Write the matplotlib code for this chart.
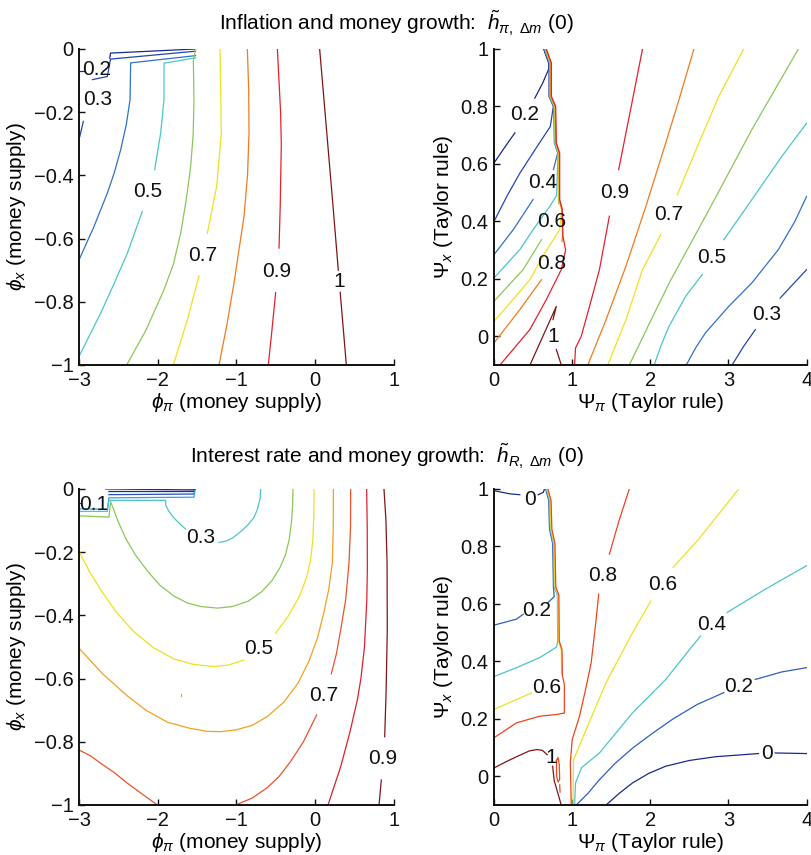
import matplotlib
matplotlib.use('Agg')
import matplotlib.pyplot as plt

plt.rcParams['font.family'] = ['Liberation Sans', 'DejaVu Sans']
plt.rcParams['mathtext.fontset'] = 'custom'
plt.rcParams['mathtext.rm'] = 'Liberation Sans'
plt.rcParams['mathtext.it'] = 'Liberation Sans:italic'
plt.rcParams['mathtext.bf'] = 'Liberation Sans:bold'

# ---------------- data ----------------
# contour levels and their colours (jet-like)
top_colors = {0.2: '#1c2a8c', 0.3: '#2347b0', 0.4: '#2f72c8', 0.5: '#4cc4cc',
              0.6: '#8cc65a', 0.7: '#eee21e', 0.8: '#f27a1e', 0.9: '#e3222e',
              1.0: '#7e1616'}
bl_colors = {0.0: '#1c2a8c', 0.1: '#2a4fc0', 0.2: '#30a2e2', 0.3: '#4cc4cc',
             0.4: '#8cc65a', 0.5: '#eee21e', 0.6: '#f2a020', 0.7: '#ea5230',
             0.8: '#dc2030', 0.9: '#7e1616'}
br_colors = {0.0: '#1c2a8c', 0.2: '#2f5fc0', 0.4: '#4cc4cc', 0.6: '#eee21e',
             0.8: '#f04422', 1.0: '#7e1616'}

# ridge where the contours of the right panels pile up (x, y), bottom to top
tr_ridge = [(0.916, 0.30), (0.882, 0.348), (0.874, 0.441), (0.840, 0.476),
            (0.840, 0.638), (0.797, 0.673), (0.789, 0.800), (0.734, 0.835),
            (0.734, 0.951), (0.670, 1.0)]
tr_shift = {0.2: -0.035, 0.3: -0.030, 0.4: -0.025, 0.5: -0.020, 0.6: -0.015,
            0.7: -0.010, 0.8: -0.005, 0.9: 0.0}
br_ridge = [(0.90, 0.22), (0.90, 0.32), (0.875, 0.35), (0.87, 0.44),
            (0.835, 0.47), (0.83, 0.63), (0.79, 0.66), (0.78, 0.81),
            (0.74, 0.86), (0.73, 0.96), (0.69, 1.0)]
br_shift = {0.2: -0.03, 0.4: -0.02, 0.6: -0.01, 0.8: 0.0}


def up_ridge(ridge, y0, dx):
    return [(x + dx, y) for x, y in ridge if y > y0]


# top left: inflation, money supply rule
tl_lines = {
    0.2: [[(-1.52, 0.0), (-2.60, -0.013), (-2.61, -0.029)],
          [(-2.99, -0.071), (-2.94, -0.071)]],
    0.3: [[(-1.52, -0.007), (-2.60, -0.032), (-2.64, -0.087), (-2.83, -0.097)],
          [(-2.945, -0.229), (-2.99, -0.277)]],
    0.4: [[(-1.52, -0.021), (-2.344, -0.044), (-2.352, -0.161), (-2.40, -0.24),
           (-2.471, -0.319), (-2.55, -0.39), (-2.64, -0.456), (-2.81, -0.562),
           (-2.99, -0.662)]],
    0.5: [[(-1.52, -0.028), (-1.92, -0.045), (-1.921, -0.161), (-1.963, -0.266),
           (-2.039, -0.382)],
          [(-2.196, -0.514), (-2.386, -0.646), (-2.55, -0.74), (-2.725, -0.836),
           (-2.99, -0.968)]],
    0.6: [[(-1.52, 0.0), (-1.548, -0.037), (-1.54, -0.161), (-1.55, -0.27),
           (-1.582, -0.372), (-1.64, -0.48), (-1.709, -0.583), (-1.80, -0.68),
           (-1.921, -0.762), (-2.15, -0.89), (-2.395, -1.0)]],
    0.7: [[(-1.209, 0.0), (-1.193, -0.266), (-1.252, -0.435), (-1.37, -0.583)],
          [(-1.476, -0.718), (-1.624, -0.857), (-1.802, -1.0)]],
    0.8: [[(-0.862, 0.0), (-0.845, -0.13), (-0.841, -0.266), (-0.86, -0.40),
           (-0.905, -0.53), (-1.032, -0.741), (-1.12, -0.87), (-1.222, -1.0)]],
    0.9: [[(-0.481, 0.0), (-0.44, -0.20), (-0.431, -0.30), (-0.445, -0.5),
           (-0.46, -0.63)],
          [(-0.503, -0.771), (-0.55, -0.89), (-0.596, -1.0)]],
    1.0: [[(0.056, 0.0), (0.22, -0.48), (0.293, -0.70)],
          [(0.317, -0.77), (0.395, -1.0)]],
}
tl_labels = [('0.2', -2.78, -0.064), ('0.3', -2.767, -0.161), ('0.5', -2.132, -0.451),
             ('0.7', -1.434, -0.652), ('0.9', -0.49, -0.704), ('1', 0.30, -0.736)]

# top right: inflation, Taylor rule
tr_lines = {
    0.2: [[(0.0, 0.603), (0.13, 0.655), (0.267, 0.708)],
          [(0.522, 0.829), (0.62, 0.88), (0.70, 0.93)] + up_ridge(tr_ridge, 0.93, tr_shift[0.2])],
    0.3: [[(0.0, 0.40), (0.17, 0.49), (0.331, 0.568), (0.55, 0.66), (0.72, 0.73)]
          + up_ridge(tr_ridge, 0.73, tr_shift[0.3]),
          [(3.046, -0.1), (3.194, -0.035), (3.343, 0.023)],
          [(3.661, 0.133), (4.0, 0.232)]],
    0.4: [[(0.0, 0.284), (0.246, 0.371), (0.5, 0.476)],
          [(0.76, 0.58)] + up_ridge(tr_ridge, 0.58, tr_shift[0.4]),
          [(2.46, -0.1), (2.58, -0.04), (2.706, 0.012), (3.003, 0.104), (3.30, 0.186),
           (3.639, 0.302), (3.85, 0.40), (4.0, 0.487)]],
    0.5: [[(0.0, 0.203), (0.331, 0.302), (0.5, 0.371), (0.713, 0.452), (0.80, 0.49)]
          + up_ridge(tr_ridge, 0.49, tr_shift[0.5]),
          [(2.049, -0.1), (2.14, -0.03), (2.24, 0.035), (2.452, 0.139), (2.664, 0.215)],
          [(2.94, 0.336), (3.30, 0.476), (3.682, 0.626), (4.0, 0.742)]],
    0.6: [[(0.0, 0.122), (0.373, 0.232), (0.607, 0.336)],
          [(0.83, 0.46)] + up_ridge(tr_ridge, 0.46, tr_shift[0.6]),
          [(1.731, -0.1), (1.98, 0.04), (2.25, 0.19), (2.75, 0.44), (3.3, 0.72),
           (3.894, 1.0)]],
    0.7: [[(0.0, 0.052), (0.25, 0.13), (0.458, 0.197), (0.65, 0.29), (0.84, 0.371)]
          + up_ridge(tr_ridge, 0.38, tr_shift[0.7]),
          [(1.455, -0.1), (1.688, 0.058), (1.90, 0.232), (2.134, 0.354)],
          [(2.346, 0.493), (2.621, 0.673), (2.876, 0.835), (3.194, 1.0)]],
    0.8: [[(0.0, -0.023), (0.331, 0.093), (0.607, 0.197)],
          [(0.87, 0.33)] + up_ridge(tr_ridge, 0.34, tr_shift[0.8]),
          [(1.2, -0.1), (1.434, 0.058), (1.688, 0.244), (1.943, 0.452),
           (2.197, 0.673), (2.367, 0.824), (2.558, 1.0)]],
    0.9: [[(0.076, -0.1), (0.458, 0.023), (0.670, 0.128), (0.861, 0.232), (0.916, 0.30)]
          + up_ridge(tr_ridge, 0.30, tr_shift[0.9]),
          [(1.031, -0.1), (1.043, -0.041), (1.116, 0.0), (1.222, 0.104),
           (1.349, 0.232), (1.476, 0.418)],
          [(1.595, 0.58), (1.773, 0.824), (1.90, 1.0)]],
    1.0: [[(0.46, -0.1), (0.797, 0.104), (0.755, 0.058)],
          [(0.797, -0.046), (0.861, -0.1)]],
}
tr_labels = [('0.2', 0.394, 0.771), ('0.4', 0.628, 0.534), ('0.6', 0.734, 0.40),
             ('0.8', 0.734, 0.255), ('1', 0.755, 0.0), ('0.9', 1.54, 0.499),
             ('0.7', 2.24, 0.423), ('0.5', 2.79, 0.273), ('0.3', 3.49, 0.075)]

# bottom left: interest rate, money supply rule
bl_lines = {
    0.0: [[(-2.66, 0.0), (-1.54, -0.003), (-1.53, 0.0)],
          [(-2.62, -0.008), (-1.54, -0.008), (-1.53, -0.002)],
          [(-1.82, 0.003), (-1.53, 0.0)]],
    0.1: [[(-2.62, -0.018), (-1.54, -0.016), (-1.53, -0.004)],
          [(-3.0, -0.045), (-2.97, -0.045)]],
    0.2: [[(-3.0, -0.063), (-2.64, -0.064), (-2.62, -0.028), (-1.54, -0.026),
           (-1.53, -0.006)]],
    0.3: [[(-0.693, 0.0), (-0.70, -0.03), (-0.735, -0.065), (-0.778, -0.09),
           (-0.86, -0.115), (-0.947, -0.135), (-1.05, -0.155), (-1.13, -0.165),
           (-1.222, -0.169)],
          [(-1.646, -0.127), (-1.72, -0.11), (-1.794, -0.092), (-1.86, -0.07),
           (-1.90, -0.05), (-1.90, -0.036), (-2.62, -0.036), (-2.64, -0.071),
           (-3.0, -0.071)]],
    0.4: [[(-0.283, 0.0), (-0.287, -0.05), (-0.30, -0.10), (-0.33, -0.16),
           (-0.38, -0.21), (-0.45, -0.25), (-0.55, -0.29), (-0.68, -0.325),
           (-0.85, -0.355), (-1.05, -0.372), (-1.243, -0.377), (-1.45, -0.372),
           (-1.624, -0.361), (-1.80, -0.338), (-1.97, -0.305), (-2.13, -0.26),
           (-2.28, -0.21), (-2.40, -0.16), (-2.50, -0.105), (-2.598, -0.04),
           (-2.62, -0.089), (-3.0, -0.085)]],
    0.5: [[(-0.016, 0.0), (-0.018, -0.08), (-0.03, -0.16), (-0.06, -0.225),
           (-0.11, -0.28), (-0.2, -0.34), (-0.35, -0.405), (-0.503, -0.456)],
          [(-0.905, -0.541), (-1.1, -0.557), (-1.286, -0.562), (-1.55, -0.555),
           (-1.794, -0.538), (-2.05, -0.503), (-2.302, -0.452), (-2.525, -0.39),
           (-2.725, -0.319), (-2.87, -0.26), (-3.0, -0.197)]],
    0.6: [[(0.23, 0.0), (0.229, -0.12), (0.217, -0.234), (0.17, -0.32),
           (0.11, -0.39), (0.03, -0.47), (-0.08, -0.545), (-0.22, -0.615),
           (-0.4, -0.675), (-0.608, -0.72), (-0.80, -0.748), (-1.0, -0.762),
           (-1.2, -0.768), (-1.37, -0.767), (-1.6, -0.757), (-1.878, -0.738),
           (-2.15, -0.70), (-2.386, -0.655), (-2.7, -0.585), (-3.0, -0.504)],
          [(-1.71, -0.648), (-1.71, -0.656)]],
    0.7: [[(0.45, 0.0), (0.448, -0.12), (0.429, -0.234), (0.386, -0.351),
           (0.323, -0.446), (0.27, -0.52), (0.204, -0.585)],
          [(0.018, -0.715), (-0.15, -0.80), (-0.312, -0.862), (-0.46, -0.91),
           (-0.608, -0.945), (-0.80, -0.978), (-1.011, -1.0)],
          [(-3.0, -0.826), (-2.85, -0.845), (-2.725, -0.868), (-2.55, -0.898),
           (-2.386, -0.931), (-2.2, -0.965), (-2.005, -1.0)]],
    0.8: [[(0.653, 0.0), (0.66, -0.12), (0.662, -0.25), (0.655, -0.351),
           (0.625, -0.50), (0.58, -0.60), (0.535, -0.667), (0.44, -0.77),
           (0.323, -0.879), (0.162, -1.0)]],
    0.9: [[(0.873, 0.0), (0.898, -0.10), (0.912, -0.234), (0.915, -0.446),
           (0.90, -0.64), (0.882, -0.784)],
          [(0.839, -0.921), (0.81, -1.0)]],
}
bl_labels = [('0.1', -2.81, -0.05), ('0.3', -1.455, -0.155), ('0.5', -0.714, -0.504),
             ('0.7', 0.111, -0.652), ('0.9', 0.852, -0.852)]

# bottom right: interest rate, Taylor rule
br_lines = {
    0.0: [[(0.0, 0.994), (0.204, 0.983), (0.33, 0.98)],
          [(0.564, 0.98), (0.63, 0.988), (0.645, 1.0)],
          [(1.434, -0.1), (1.60, -0.06), (1.773, -0.023), (1.98, 0.01), (2.197, 0.035),
           (2.5, 0.055), (2.834, 0.068), (3.385, 0.079)],
          [(3.597, 0.081), (4.0, 0.079)]],
    0.2: [[(0.0, 0.526), (0.288, 0.547), (0.374, 0.564)],
          [(0.691, 0.605), (0.77, 0.625)] + up_ridge(br_ridge, 0.63, br_shift[0.2]),
          [(1.052, -0.1), (1.2, -0.06), (1.349, -0.012), (1.55, 0.045), (1.773, 0.098),
           (2.03, 0.15), (2.282, 0.198), (2.6, 0.25), (2.94, 0.291)],
          [(3.343, 0.337), (3.68, 0.363), (4.0, 0.378)]],
    0.4: [[(0.0, 0.347), (0.288, 0.378), (0.585, 0.413), (0.80, 0.45)]
          + up_ridge(br_ridge, 0.45, br_shift[0.4]),
          [(1.031, -0.1), (1.043, -0.023), (1.12, 0.03), (1.349, 0.081),
           (1.773, 0.221), (2.197, 0.337), (2.537, 0.453), (2.643, 0.488)],
          [(2.982, 0.57), (3.47, 0.651), (4.0, 0.733)]],
    0.6: [[(0.0, 0.233), (0.246, 0.262), (0.48, 0.29)],
          [(0.865, 0.355)] + up_ridge(br_ridge, 0.36, br_shift[0.6]),
          [(1.01, -0.1), (1.018, 0.058), (1.179, 0.163), (1.434, 0.326),
           (1.773, 0.50), (2.006, 0.61)],
          [(2.291, 0.727), (2.621, 0.826), (3.13, 1.0)]],
    0.8: [[(0.0, 0.134), (0.288, 0.186), (0.585, 0.209), (0.80, 0.215)]
          + up_ridge(br_ridge, 0.2, br_shift[0.8]),
          [(0.988, -0.1), (0.976, 0.047), (1.001, 0.128), (1.094, 0.209),
           (1.17, 0.30), (1.243, 0.395), (1.30, 0.53), (1.34, 0.634)],
          [(1.476, 0.773), (1.60, 0.89), (1.731, 1.0)],
          [(0.80, 0.055), (0.82, 0.065), (0.835, 0.04), (0.84, -0.01),
           (0.82, -0.02), (0.80, 0.0), (0.80, 0.055)],
          [(0.84, -0.03), (0.845, -0.055)]],
    1.0: [[(0.0, 0.029), (0.15, 0.05), (0.288, 0.068), (0.45, 0.088), (0.55, 0.093),
           (0.62, 0.09), (0.68, 0.075)],
          [(0.75, 0.035), (0.77, -0.015), (0.86, -0.1)]],
}
br_labels = [('0', 0.458, 0.965), ('0.2', 0.543, 0.576), ('0.6', 0.67, 0.308),
             ('1', 0.734, 0.064), ('0.8', 1.391, 0.698), ('0.6', 2.155, 0.669),
             ('0.4', 2.791, 0.529), ('0.2', 3.13, 0.314), ('0', 3.491, 0.079)]

left_xticks = [-3, -2, -1, 0, 1]
left_xticklabels = ['\u22123', '\u22122', '\u22121', '0', '1']
left_yticks = [-1, -0.8, -0.6, -0.4, -0.2, 0]
left_yticklabels = ['\u22121', '\u22120.8', '\u22120.6', '\u22120.4', '\u22120.2', '0']
right_xticks = [0, 1, 2, 3, 4]
right_xticklabels = ['0', '1', '2', '3', '4']
right_yticks = [0, 0.2, 0.4, 0.6, 0.8, 1]
right_yticklabels = ['0', '0.2', '0.4', '0.6', '0.8', '1']

# ---------------- drawing ----------------
fig = plt.figure(figsize=(8.12, 8.55), dpi=100)


def panel(rect, lines, colors, labels, xlim, ylim, xticks, xtl, yticks, ytl, xlab, ylab):
    ax = fig.add_axes(rect)
    for level, segs in lines.items():
        for seg in segs:
            xs = [p[0] for p in seg]
            ys = [p[1] for p in seg]
            ax.plot(xs, ys, color=colors[level], lw=0.9, solid_joinstyle='round')
    for txt, x, y in labels:
        ax.text(x, y, txt, ha='center', va='center', fontsize=15, color='#111111')
    ax.set_xlim(xlim)
    ax.set_ylim(ylim)
    ax.set_xticks(xticks)
    ax.set_xticklabels(xtl)
    ax.set_yticks(yticks)
    ax.set_yticklabels(ytl)
    ax.tick_params(direction='in', length=4, width=1, labelsize=14.5, pad=4, colors='#111111')
    for s in ['top', 'right']:
        ax.spines[s].set_visible(False)
    for s in ['left', 'bottom']:
        ax.spines[s].set_linewidth(1.4)
        ax.spines[s].set_color('#111111')
    ax.set_xlabel(xlab, fontsize=15, labelpad=1)
    ax.set_ylabel(ylab, fontsize=15, labelpad=4)
    return ax


panel([0.0973, 0.5731, 0.3879, 0.3696], tl_lines, top_colors, tl_labels, (-3, 1), (-1, 0),
      left_xticks, left_xticklabels, left_yticks, left_yticklabels,
      r'$\phi_\pi$ (money supply)', r'$\phi_x$ (money supply)')
panel([0.6084, 0.5731, 0.3850, 0.3696], tr_lines, top_colors, tr_labels, (0, 4), (-0.1, 1),
      right_xticks, right_xticklabels, right_yticks, right_yticklabels,
      r'$\Psi_\pi$ (Taylor rule)', r'$\Psi_x$ (Taylor rule)')
panel([0.0973, 0.0585, 0.3879, 0.3696], bl_lines, bl_colors, bl_labels, (-3, 1), (-1, 0),
      left_xticks, left_xticklabels, left_yticks, left_yticklabels,
      r'$\phi_\pi$ (money supply)', r'$\phi_x$ (money supply)')
panel([0.6084, 0.0585, 0.3850, 0.3696], br_lines, br_colors, br_labels, (0, 4), (-0.1, 1),
      right_xticks, right_xticklabels, right_yticks, right_yticklabels,
      r'$\Psi_\pi$ (Taylor rule)', r'$\Psi_x$ (Taylor rule)')

fig.text(0.488, 0.973, r'Inflation and money growth:  $\tilde{h}_{\pi,\ \Delta m}$ (0)',
         ha='center', va='center', fontsize=15)
fig.text(0.477, 0.466, r'Interest rate and money growth:  $\tilde{h}_{R,\ \Delta m}$ (0)',
         ha='center', va='center', fontsize=15)

fig.savefig('out.png', dpi=100)
